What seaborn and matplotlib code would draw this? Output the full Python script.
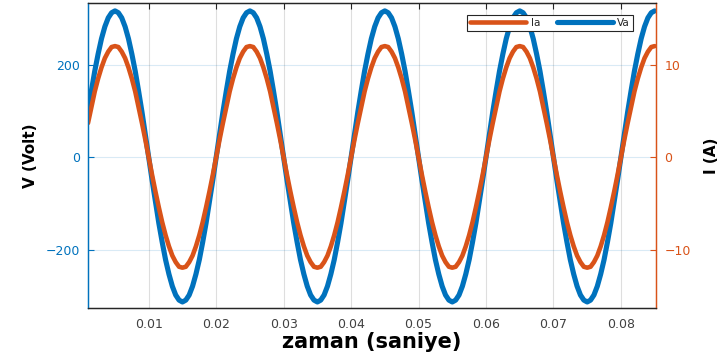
import numpy as np
import matplotlib
matplotlib.use("Agg")
import matplotlib.pyplot as plt
import seaborn as sns

# sample times (s), 0.5 ms step from 0.001 to 0.085
zaman = np.round(np.arange(2, 171) * 0.0005, 4)

# phase voltage Va (V)
va = [98, 143, 186, 223, 256, 282, 301, 312, 316, 312, 301, 282, 256, 223, 186, 143, 98, 49, 0,
      -49, -96, -142, -183, -221, -252, -278, -297, -308, -312, -308, -297, -278, -252, -221, -183, -142, -96, -49, 0,
      49, 98, 143, 186, 223, 256, 282, 301, 312, 316, 312, 301, 282, 256, 223, 186, 143, 98, 49, 0,
      -49, -96, -142, -183, -221, -252, -278, -297, -308, -312, -308, -297, -278, -252, -221, -183, -142, -96, -49, 0,
      49, 98, 143, 186, 223, 256, 282, 301, 312, 316, 312, 301, 282, 256, 223, 186, 143, 98, 49, 0,
      -49, -96, -142, -183, -221, -252, -278, -297, -308, -312, -308, -297, -278, -252, -221, -183, -142, -96, -49, 0,
      49, 98, 143, 186, 223, 256, 282, 301, 312, 316, 312, 301, 282, 256, 223, 186, 143, 98, 49, 0,
      -49, -96, -142, -183, -221, -252, -278, -297, -308, -312, -308, -297, -278, -252, -221, -183, -142, -96, -49, 0,
      49, 98, 143, 186, 223, 256, 282, 301, 312, 316]

# phase current Ia (A)
ia = [3.7, 5.4, 7.1, 8.5, 9.7, 10.7, 11.4, 11.9, 12.0, 11.9, 11.4, 10.7, 9.7, 8.5, 7.1, 5.4, 3.7, 1.9, 0,
      -1.9, -3.7, -5.4, -7.0, -8.4, -9.6, -10.6, -11.3, -11.8, -11.9, -11.8, -11.3, -10.6, -9.6, -8.4, -7.0, -5.4, -3.7, -1.9, 0,
      1.9, 3.7, 5.4, 7.1, 8.5, 9.7, 10.7, 11.4, 11.9, 12.0, 11.9, 11.4, 10.7, 9.7, 8.5, 7.1, 5.4, 3.7, 1.9, 0,
      -1.9, -3.7, -5.4, -7.0, -8.4, -9.6, -10.6, -11.3, -11.8, -11.9, -11.8, -11.3, -10.6, -9.6, -8.4, -7.0, -5.4, -3.7, -1.9, 0,
      1.9, 3.7, 5.4, 7.1, 8.5, 9.7, 10.7, 11.4, 11.9, 12.0, 11.9, 11.4, 10.7, 9.7, 8.5, 7.1, 5.4, 3.7, 1.9, 0,
      -1.9, -3.7, -5.4, -7.0, -8.4, -9.6, -10.6, -11.3, -11.8, -11.9, -11.8, -11.3, -10.6, -9.6, -8.4, -7.0, -5.4, -3.7, -1.9, 0,
      1.9, 3.7, 5.4, 7.1, 8.5, 9.7, 10.7, 11.4, 11.9, 12.0, 11.9, 11.4, 10.7, 9.7, 8.5, 7.1, 5.4, 3.7, 1.9, 0,
      -1.9, -3.7, -5.4, -7.0, -8.4, -9.6, -10.6, -11.3, -11.8, -11.9, -11.8, -11.3, -10.6, -9.6, -8.4, -7.0, -5.4, -3.7, -1.9, 0,
      1.9, 3.7, 5.4, 7.1, 8.5, 9.7, 10.7, 11.4, 11.9, 12.0]

x_ticks = [0.01, 0.02, 0.03, 0.04, 0.05, 0.06, 0.07, 0.08]
v_ticks = [-200, 0, 200]
i_ticks = [-10, 0, 10]

BLUE = "#0072BD"
ORANGE = "#D95319"
DARK = "#262626"

sns.set_style("white")
plt.rcParams["font.family"] = ["DejaVu Sans"]

fig = plt.figure(figsize=(7.24, 3.55), dpi=100)
ax = fig.add_axes([88 / 724, 47 / 355, 568 / 724, 305 / 355])
ax2 = ax.twinx()

sns.lineplot(x=zaman, y=va, ax=ax, color=BLUE, linewidth=3.7, label="Va", legend=False)
sns.lineplot(x=zaman, y=ia, ax=ax2, color=ORANGE, linewidth=3.3, label="Ia", legend=False)

ax.set_xlim(0.001, 0.0852)
ax.set_ylim(-325, 333)
ax2.set_ylim(-16.25, 16.65)

ax.set_xticks(x_ticks)
ax.set_xticklabels([f"{v:.2f}" for v in x_ticks])
ax.set_yticks(v_ticks)
ax2.set_yticks(i_ticks)

# grid like matlab: vertical gray, horizontal in left-axis colour
ax.grid(True, axis="x", color=DARK, alpha=0.15, linewidth=0.8)
ax.grid(True, axis="y", color=BLUE, alpha=0.15, linewidth=0.8)
ax.set_axisbelow(True)

for a in (ax, ax2):
    a.spines["top"].set_color(DARK)
    a.spines["bottom"].set_color(DARK)
    a.spines["left"].set_color(BLUE)
    a.spines["right"].set_color(ORANGE)
    for s in a.spines.values():
        s.set_linewidth(0.9)

ax.tick_params(axis="x", direction="in", top=True, length=4, width=0.8,
               color=DARK, labelcolor="#404040", labelsize=9, pad=7)
ax.tick_params(axis="y", direction="in", length=4, width=0.8,
               color=BLUE, labelcolor=BLUE, labelsize=9, pad=6)
ax2.tick_params(axis="y", direction="in", length=4, width=0.8,
                color=ORANGE, labelcolor=ORANGE, labelsize=9, pad=6)

ax.set_xlabel("zaman (saniye)", fontsize=15, fontweight="bold", color="black", labelpad=1)
ax.set_ylabel("V (Volt)", fontsize=11, fontweight="bold", color="black")
ax.yaxis.set_label_coords(-0.088, 0.5)
ax2.set_ylabel("I (A)", fontsize=11, fontweight="bold", color="black")
ax2.yaxis.set_label_coords(1.085, 0.5)

h1, l1 = ax.get_legend_handles_labels()
h2, l2 = ax2.get_legend_handles_labels()
leg = ax2.legend(h2 + h1, l2 + l1, loc="upper right", bbox_to_anchor=(0.9595, 0.9607),
                 borderaxespad=0, ncol=2, fontsize=7.5, handlelength=5.4,
                 handletextpad=0.4, columnspacing=1.6, borderpad=0.3,
                 fancybox=False, framealpha=1, edgecolor=DARK)
leg.get_frame().set_linewidth(0.8)

fig.savefig("out.png", dpi=100)
